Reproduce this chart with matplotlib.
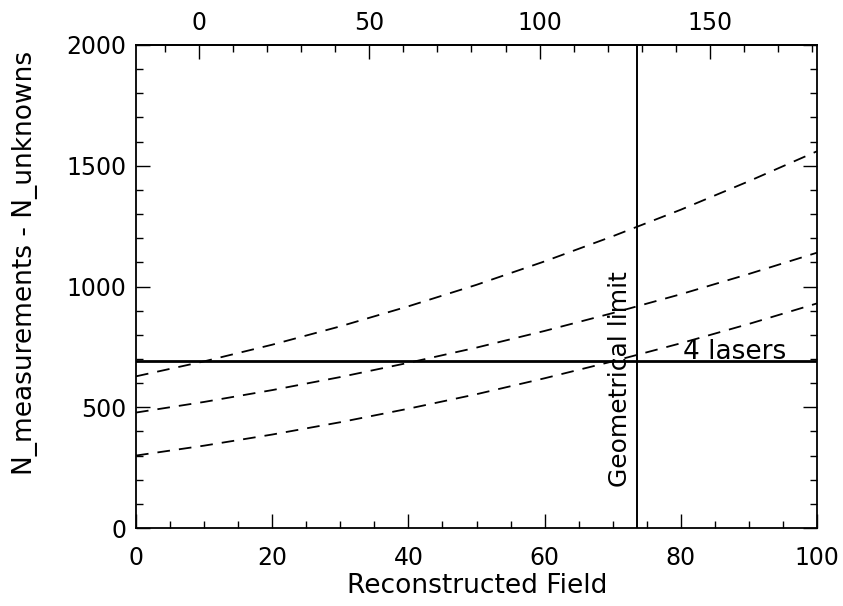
import numpy as np
import matplotlib
matplotlib.use("Agg")
import matplotlib.pyplot as plt
from matplotlib.ticker import MultipleLocator, FixedLocator

# values
field = [0, 10, 20, 30, 40, 50, 60, 70, 80, 90, 100]
curve_a = [628, 690, 759, 835, 918, 1007, 1104, 1208, 1318, 1436, 1560]
curve_b = [478, 522, 571, 625, 684, 747, 816, 890, 968, 1052, 1140]
curve_c = [300, 341, 387, 438, 494, 554, 620, 690, 765, 845, 930]
lasers_level = 690
geo_limit = 73.5

# top axis: 0 at field 9.26, two units per field unit
top_zero = 9.26
top_scale = 2.0
top_major = [0, 50, 100, 150]
top_minor = list(range(-10, 190, 10))

plt.rcParams['font.family'] = ['DejaVu Sans']
fs = 17

fig = plt.figure(figsize=(8.43, 6.06), dpi=100)
ax = fig.add_axes([136 / 843, 1 - 528 / 606, 681 / 843, (528 - 45) / 606])

for ys in (curve_a, curve_b, curve_c):
    ax.plot(field, ys, color='k', lw=1.3, ls=(0, (7, 5)))

ax.axhline(lasers_level, color='k', lw=2.0)
ax.axvline(geo_limit, color='k', lw=1.4)

ax.text(80.3, 700, "4 lasers", fontsize=19, va='baseline', ha='left')
ax.text(72.9, 170, "Geometrical limit", fontsize=18, rotation=90,
        ha='right', va='bottom')

ax.set_xlim(0, 100)
ax.set_ylim(0, 2000)
ax.xaxis.set_major_locator(MultipleLocator(20))
ax.xaxis.set_minor_locator(MultipleLocator(5))
ax.yaxis.set_major_locator(MultipleLocator(500))
ax.yaxis.set_minor_locator(MultipleLocator(100))
ax.tick_params(which='both', direction='in', right=True, top=False,
               width=1.0, labelsize=fs)
ax.tick_params(which='major', length=10)
ax.tick_params(which='minor', length=5)
ax.tick_params(axis='x', pad=13)
ax.tick_params(axis='y', pad=7)

top = ax.secondary_xaxis('top', functions=(lambda x: top_scale * (x - top_zero),
                                           lambda t: t / top_scale + top_zero))
top.xaxis.set_major_locator(FixedLocator(top_major))
top.xaxis.set_minor_locator(FixedLocator(top_minor))
top.tick_params(which='both', direction='in', width=1.0, labelsize=fs, pad=7)
top.tick_params(which='major', length=10)
top.tick_params(which='minor', length=5)

for sp in ax.spines.values():
    sp.set_linewidth(1.3)
top.spines['top'].set_linewidth(1.3)

fig.text(477 / 843, 1 - 586 / 606, "Reconstructed Field", fontsize=19,
         ha='center', va='center')
fig.text(25 / 843, 1 - 263 / 606, "N_measurements - N_unknowns", fontsize=19,
         rotation=90, ha='center', va='center')

fig.savefig("out.png", dpi=100)
